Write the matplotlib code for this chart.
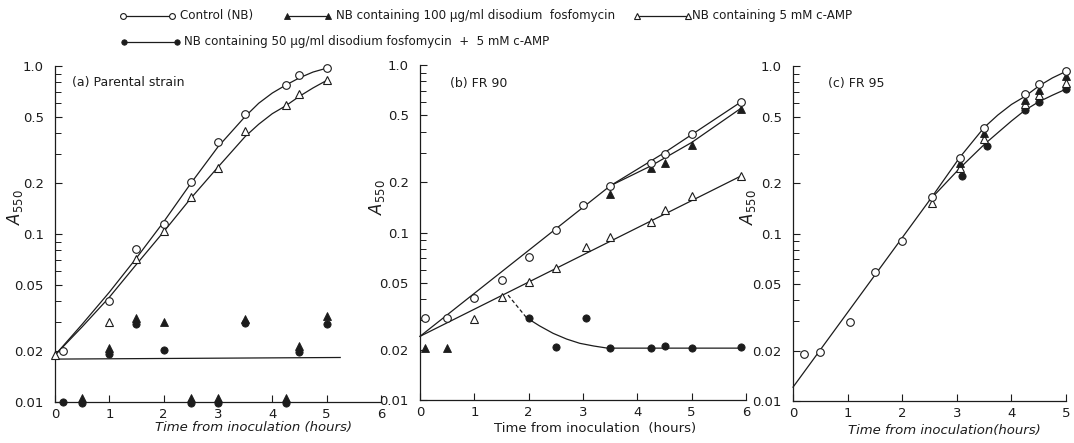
import matplotlib
matplotlib.use("Agg")
import matplotlib.pyplot as plt
from matplotlib.lines import Line2D
from matplotlib.ticker import FixedLocator, FixedFormatter, NullFormatter

ink = '#1c1c1c'
plt.rcParams['font.family'] = ['DejaVu Sans']

# ---------------- (a) Parental strain ----------------
a_t_ctrl = [0.15, 1.0, 1.5, 2.0, 2.5, 3.0, 3.5, 4.25, 4.5, 5.0]
a_ctrl = [0.020, 0.040, 0.081, 0.115, 0.205, 0.355, 0.52, 0.77, 0.88, 0.97]
a_t_camp = [0.0, 1.0, 1.5, 2.0, 2.5, 3.0, 3.5, 4.25, 4.5, 5.0]
a_camp = [0.019, 0.030, 0.071, 0.104, 0.166, 0.248, 0.41, 0.586, 0.68, 0.83]
a_t_fos = [0.5, 1.0, 1.5, 2.0, 2.5, 3.0, 3.5, 4.25, 4.5, 5.0]
a_fos = [0.0106, 0.0209, 0.0315, 0.030, 0.0106, 0.0106, 0.0312, 0.0106, 0.0216, 0.0325]
a_t_mix = [0.15, 0.5, 1.0, 1.5, 2.0, 2.5, 3.0, 3.5, 4.25, 4.5, 5.0]
a_mix = [0.010, 0.0098, 0.0193, 0.029, 0.0204, 0.0098, 0.0098, 0.0295, 0.0098, 0.0198, 0.0291]
# fitted curves as drawn in the figure
a_fit_t = [0, 0.5, 1.0, 1.5, 2.0, 2.5, 3.0, 3.5, 3.75, 4.0, 4.25, 4.5, 4.75, 5.0]
a_fit_ctrl = [0.019, 0.029, 0.045, 0.072, 0.118, 0.20, 0.33, 0.50, 0.60, 0.69, 0.77, 0.85, 0.92, 0.97]
a_fit_camp = [0.019, 0.028, 0.042, 0.066, 0.103, 0.163, 0.25, 0.38, 0.45, 0.52, 0.58, 0.66, 0.74, 0.82]
a_base_t = [0, 5.25]
a_base = [0.018, 0.0184]

# ---------------- (b) FR 90 ----------------
b_t_ctrl = [0.1, 0.5, 1.0, 1.5, 2.0, 2.5, 3.0, 3.5, 4.25, 4.5, 5.0, 5.9]
b_ctrl = [0.031, 0.031, 0.0405, 0.052, 0.0717, 0.1035, 0.146, 0.19, 0.261, 0.294, 0.386, 0.60]
b_t_fos = [0.1, 0.5, 3.5, 4.25, 4.5, 5.0, 5.9]
b_fos = [0.0205, 0.0205, 0.17, 0.242, 0.259, 0.333, 0.546]
b_t_camp = [1.0, 1.5, 2.0, 2.5, 3.05, 3.5, 4.25, 4.5, 5.0, 5.9]
b_camp = [0.0305, 0.0414, 0.0504, 0.061, 0.082, 0.0936, 0.115, 0.136, 0.166, 0.217]
b_t_mix = [2.0, 2.5, 3.05, 3.5, 4.25, 4.5, 5.0, 5.9]
b_mix = [0.0307, 0.0208, 0.0307, 0.0204, 0.0204, 0.021, 0.0204, 0.0206]
b_fit_ctrl_t = [0, 3.5, 4.5, 5.9]
b_fit_ctrl = [0.024, 0.19, 0.30, 0.60]
b_fit_fos_t = [3.5, 4.25, 5.0, 5.9]
b_fit_fos = [0.19, 0.25, 0.345, 0.55]
b_fit_camp_t = [0, 5.9]
b_fit_camp = [0.024, 0.217]
b_dash_t = [1.62, 1.96]
b_dash = [0.0423, 0.031]
b_fit_mix_t = [1.96, 2.2, 2.45, 2.7, 2.94, 3.2, 3.45, 5.9]
b_fit_mix = [0.031, 0.0277, 0.025, 0.0231, 0.0218, 0.021, 0.0204, 0.0204]

# ---------------- (c) FR 95 ----------------
c_t_ctrl = [0.2, 0.5, 1.05, 1.5, 2.0, 2.55, 3.05, 3.5, 4.25, 4.5, 5.0]
c_ctrl = [0.0192, 0.0195, 0.0296, 0.059, 0.0904, 0.166, 0.284, 0.424, 0.677, 0.778, 0.937]
c_t_fos = [3.05, 3.5, 4.25, 4.5, 5.0]
c_fos = [0.263, 0.396, 0.626, 0.719, 0.871]
c_t_camp = [2.55, 3.05, 3.5, 4.25, 4.5, 5.0]
c_camp = [0.152, 0.245, 0.365, 0.593, 0.671, 0.788]
c_t_mix = [3.1, 3.55, 4.25, 4.5, 5.0]
c_mix = [0.22, 0.334, 0.546, 0.612, 0.729]
c_fit_t = [0, 2.5]
c_fit = [0.0121, 0.158]
c_fit_hi_t = [2.5, 3.05, 3.5, 3.75, 4.0, 4.25, 4.5, 4.75, 5.0]
c_fit_hi = [0.158, 0.284, 0.43, 0.51, 0.59, 0.66, 0.76, 0.85, 0.93]
c_fit_lo_t = [2.5, 3.05, 3.5, 3.75, 4.0, 4.25, 4.5, 4.75, 5.0]
c_fit_lo = [0.158, 0.245, 0.34, 0.40, 0.47, 0.546, 0.612, 0.67, 0.729]

yticks = [0.01, 0.02, 0.05, 0.1, 0.2, 0.5, 1.0]
ylabels = ['0.01', '0.02', '0.05', '0.1', '0.2', '0.5', '1.0']
yminor = [0.03, 0.04, 0.06, 0.07, 0.08, 0.09, 0.3, 0.4, 0.6, 0.7, 0.8, 0.9]

st = {
    'ctrl': dict(marker='o', mfc='white', mec=ink, ms=5.5, mew=0.8),
    'fos': dict(marker='^', mfc=ink, mec=ink, ms=5.5, mew=0.6),
    'camp': dict(marker='^', mfc='white', mec=ink, ms=5.5, mew=0.8),
    'mix': dict(marker='o', mfc=ink, mec=ink, ms=5.2, mew=0.6),
}

fig = plt.figure(figsize=(10.74, 4.43), dpi=100)
ax_a = fig.add_axes([0.0512, 0.0926, 0.3035, 0.7585])
ax_b = fig.add_axes([0.3911, 0.0971, 0.3035, 0.756])
ax_c = fig.add_axes([0.7384, 0.0948, 0.2542, 0.756])


def style(ax, xmax):
    ax.set_yscale('log')
    ax.set_ylim(0.01, 1.0)
    ax.set_xlim(0, xmax)
    ax.set_xticks(range(xmax + 1))
    ax.yaxis.set_major_locator(FixedLocator(yticks))
    ax.yaxis.set_major_formatter(FixedFormatter(ylabels))
    ax.yaxis.set_minor_locator(FixedLocator(yminor))
    ax.yaxis.set_minor_formatter(NullFormatter())
    for s in ['top', 'right']:
        ax.spines[s].set_visible(False)
    for s in ['left', 'bottom']:
        ax.spines[s].set_color(ink)
        ax.spines[s].set_linewidth(0.9)
    ax.tick_params(which='major', direction='in', length=5, width=0.8,
                   colors=ink, labelsize=9.5, pad=4)
    ax.tick_params(which='minor', direction='in', length=4, width=0.7, colors=ink)
    ax.tick_params(axis='y', which='major', pad=8)


def pts(ax, t, v, key):
    ax.plot(t, v, ls='none', clip_on=False, zorder=4, **st[key])


def fit(ax, t, v, ls='-'):
    ax.plot(t, v, color=ink, lw=0.9, ls=ls, zorder=2, clip_on=False)


# (a)
style(ax_a, 6)
fit(ax_a, a_fit_t, a_fit_ctrl)
fit(ax_a, a_fit_t, a_fit_camp)
fit(ax_a, a_base_t, a_base)
pts(ax_a, a_t_mix, a_mix, 'mix')
pts(ax_a, a_t_fos, a_fos, 'fos')
pts(ax_a, a_t_camp, a_camp, 'camp')
pts(ax_a, a_t_ctrl, a_ctrl, 'ctrl')

# (b)
style(ax_b, 6)
fit(ax_b, b_fit_ctrl_t, b_fit_ctrl)
fit(ax_b, b_fit_fos_t, b_fit_fos)
fit(ax_b, b_fit_camp_t, b_fit_camp)
fit(ax_b, b_dash_t, b_dash, ls=(0, (3, 2)))
fit(ax_b, b_fit_mix_t, b_fit_mix)
pts(ax_b, b_t_mix, b_mix, 'mix')
pts(ax_b, b_t_fos, b_fos, 'fos')
pts(ax_b, b_t_camp, b_camp, 'camp')
pts(ax_b, b_t_ctrl, b_ctrl, 'ctrl')

# (c)
style(ax_c, 5)
fit(ax_c, c_fit_t, c_fit)
fit(ax_c, c_fit_hi_t, c_fit_hi)
fit(ax_c, c_fit_lo_t, c_fit_lo)
pts(ax_c, c_t_mix, c_mix, 'mix')
pts(ax_c, c_t_camp, c_camp, 'camp')
pts(ax_c, c_t_fos, c_fos, 'fos')
pts(ax_c, c_t_ctrl, c_ctrl, 'ctrl')

# panel titles, axis labels
ax_a.text(0.052, 0.952, '(a) Parental strain', transform=ax_a.transAxes,
          fontsize=9, color=ink, va='center', ha='left')
ax_b.text(0.092, 0.946, '(b) FR 90', transform=ax_b.transAxes,
          fontsize=9, color=ink, va='center', ha='left')
ax_c.text(0.128, 0.949, '(c) FR 95', transform=ax_c.transAxes,
          fontsize=9, color=ink, va='center', ha='left')

ax_a.text(0.61, -0.077, 'Time from inoculation (hours)', transform=ax_a.transAxes,
          fontsize=9.5, color=ink, ha='center', va='center', style='italic')
ax_b.text(0.537, -0.084, 'Time from inoculation  (hours)', transform=ax_b.transAxes,
          fontsize=9.5, color=ink, ha='center', va='center')
ax_c.text(0.553, -0.087, 'Time from inoculation(hours)', transform=ax_c.transAxes,
          fontsize=9.5, color=ink, ha='center', va='center', style='italic')

for ax, x, y in [(ax_a, -0.123, 0.58), (ax_b, -0.132, 0.607), (ax_c, -0.165, 0.58)]:
    ax.text(x, y, r'$A_{550}$', transform=ax.transAxes, rotation=90,
            fontsize=12, color=ink, ha='center', va='center')

# legend drawn at the top of the figure
W, H = 1074.0, 443.0
legend_items = [
    ('ctrl', 123, 172, 16, 180, 'Control (NB)'),
    ('fos', 287, 328, 16, 336, 'NB containing 100 \u03bcg/ml disodium  fosfomycin'),
    ('camp', 637, 688, 16, 692, 'NB containing 5 mM c-AMP'),
    ('mix', 124, 177, 42, 184, 'NB containing 50 \u03bcg/ml disodium fosfomycin  +  5 mM c-AMP'),
]
for key, x0, x1, y, xt, label in legend_items:
    kw = dict(st[key])
    kw['ms'] = kw['ms'] - 1.3
    fig.add_artist(Line2D([x0 / W, x1 / W], [1 - y / H, 1 - y / H],
                          transform=fig.transFigure, color=ink, lw=0.9, **kw))
    fig.text(xt / W, 1 - y / H, label, fontsize=8.6, color=ink, va='center', ha='left')

fig.savefig('out.png', dpi=100, facecolor='white')
